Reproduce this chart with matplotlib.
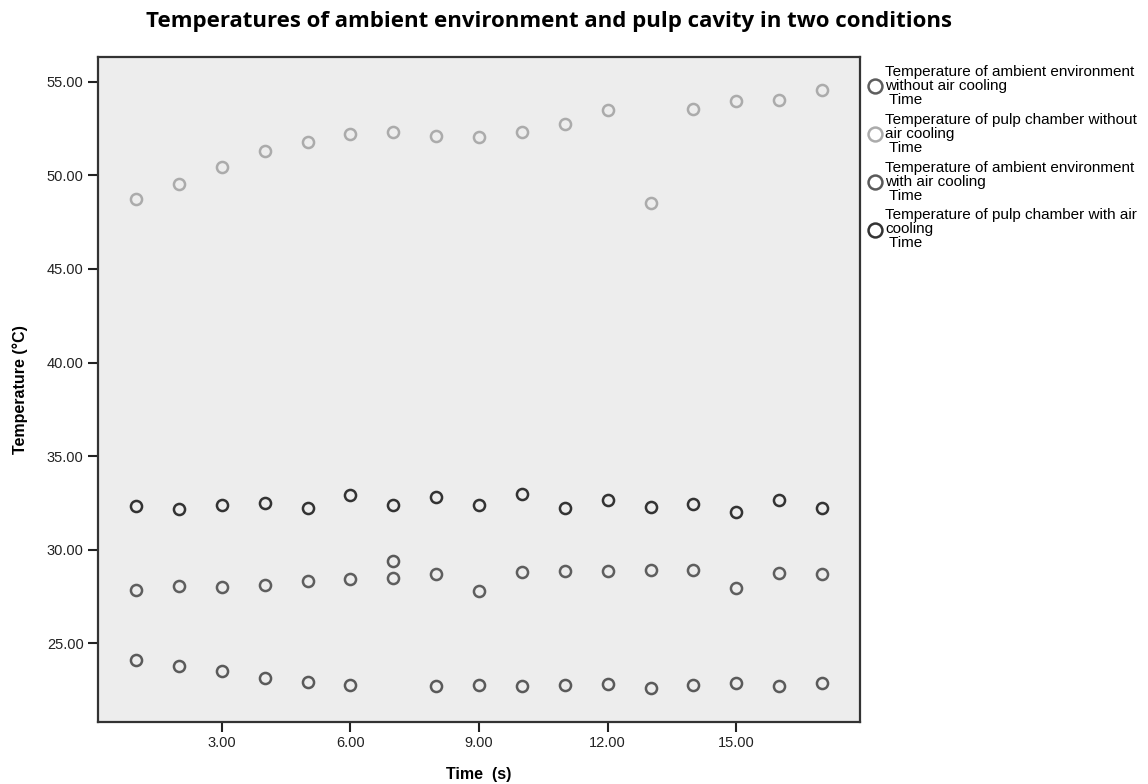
"""
Scatter of ambient / pulp chamber temperatures, with and without air cooling.
Writes out.png (1148x784).
"""

import matplotlib
matplotlib.use("Agg")
import matplotlib.pyplot as plt

time_s = list(range(1, 18))

ambient_no_cool = [27.86, 28.04, 28.00, 28.13, 28.30, 28.43, 28.48, 28.70, 27.80,
                   28.79, 28.84, 28.84, 28.93, 28.93, 27.95, 28.75, 28.71]
pulp_no_cool = [48.75, 49.55, 50.45, 51.30, 51.79, 52.23, 52.30, 52.09, 52.05,
                52.29, 52.73, 53.48, 48.54, 53.57, 53.96, 54.05, 54.55]
ambient_cool = [24.11, 23.79, 23.52, 23.16, 22.91, 22.79, 29.38, 22.73, 22.79,
                22.73, 22.77, 22.82, 22.59, 22.77, 22.86, 22.73, 22.86]
pulp_cool = [32.34, 32.16, 32.39, 32.50, 32.23, 32.91, 32.38, 32.79, 32.38,
             32.98, 32.23, 32.64, 32.27, 32.46, 32.02, 32.64, 32.23]

series = [
    ("Temperature of ambient environment\nwithout air cooling\n Time", ambient_no_cool, "#5e5e5e"),
    ("Temperature of pulp chamber without\nair cooling\n Time", pulp_no_cool, "#ababab"),
    ("Temperature of ambient environment\nwith air cooling\n Time", ambient_cool, "#5a5a5a"),
    ("Temperature of pulp chamber with air\ncooling\n Time", pulp_cool, "#333333"),
]

plt.rcParams["font.family"] = ["Liberation Sans", "DejaVu Sans"]

fig = plt.figure(figsize=(11.48, 7.84), dpi=100)
ax = fig.add_axes([0.0856, 0.0795, 0.749 - 0.0856, 0.9277 - 0.0795])
ax.set_facecolor("#ededed")

for label, vals, col in series:
    ax.plot(time_s, vals, ls="none", marker="o", ms=8, mfc="none",
            mec=col, mew=1.8, label=label)

ax.set_xlim(0.12, 17.88)
ax.set_ylim(20.81, 56.34)
ax.set_xticks([3, 6, 9, 12, 15])
ax.set_yticks([25, 30, 35, 40, 45, 50, 55])
ax.xaxis.set_major_formatter(lambda v, p: f"{v:.2f}")
ax.yaxis.set_major_formatter(lambda v, p: f"{v:.2f}")
ax.tick_params(direction="out", length=7, width=1.5, labelsize=10.5,
               colors="#222222", top=False, right=False)
for sp in ax.spines.values():
    sp.set_linewidth(1.6)
    sp.set_color("#333333")

ax.set_xlabel("Time  (s)", fontsize=11.5, fontweight="bold", va="center")
ax.xaxis.set_label_coords(0.5, -0.080)
ax.set_ylabel("Temperature (°C)", fontsize=11.5, fontweight="bold", va="center")
ax.yaxis.set_label_coords(-0.102, 0.5)

fig.text(0.478, 0.972, "Temperatures of ambient environment and pulp cavity in two conditions",
         ha="center", va="center", fontsize=16, fontweight="bold",
         family=["Open Sans", "DejaVu Sans"])

leg = fig.legend(loc="upper left", bbox_to_anchor=(0.756, 0.917), frameon=False,
                 fontsize=11, handlelength=0.9, handletextpad=0.25, markerscale=1.25,
                 labelspacing=0.38, borderpad=0, borderaxespad=0)
for t in leg.get_texts():
    t.set_linespacing(1.0)

fig.savefig("out.png", dpi=100)
